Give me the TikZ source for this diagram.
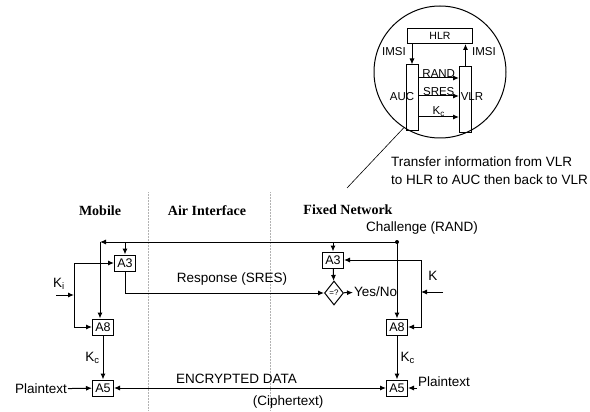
\documentclass[tikz,border=0pt]{standalone}
\usepackage{fontspec}
\setmainfont{Liberation Sans}
\newfontfamily\hdrfont{Liberation Serif}
\usetikzlibrary{arrows.meta,positioning,shapes.geometric}

\begin{document}
\begin{tikzpicture}[x=1pt, y=-1pt,
        box/.style={draw, line width=1pt, minimum width=21pt, minimum height=16pt, inner sep=1pt, font=\fontsize{12.5}{13}\selectfont},
        tall/.style={draw, line width=1pt, minimum width=12pt, minimum height=66pt, inner sep=0pt},
        lbl/.style={inner sep=1pt, font=\fontsize{13.5}{18}\selectfont},
        small/.style={inner sep=1pt, font=\fontsize{11.5}{13}\selectfont},
        hdr/.style={font=\hdrfont\bfseries\fontsize{14}{16}\selectfont},
        line/.style={draw, line width=1pt},
        arr/.style={line, -{Latex[length=6pt,width=5pt]}},
        divider/.style={draw, densely dotted, gray!60, line width=0.5pt}
    ]
        \useasboundingbox (0,0) rectangle (590,412);

        % Headers
        \node[hdr] (MOB) at (100,211) {Mobile};
        \node[hdr] (AIR) at (207,211) {Air Interface};
        \node[hdr] (FIX) at (348,210) {Fixed Network};

        % Dividers
        \draw[divider] (148,192) -- (148,410);
        \draw[divider] (270,192) -- (270,410);

        % Mobile side
        \node[box] (MA3) at (125,263) {A3};
        \node[box] (MA8) at (103,327) {A8};
        \node[box] (MA5) at (103,388) {A5};

        % Fixed side
        \node[box] (FA3) at (333,260) {A3};
        \node[diamond, draw, line width=1pt, minimum width=19pt, minimum height=24pt, inner sep=0pt, font=\fontsize{8}{8}\selectfont] (CMP) at (334,293) {=?};
        \node[box] (FA8) at (397,327) {A8};
        \node[box] (FA5) at (397,388) {A5};

        % Challenge (RAND)
        \coordinate (DOT) at (397,242);
        \coordinate (MCRN) at (100,242);
        \fill (DOT) circle (2pt);
        \node[lbl] (RAND) at (422,228) {Challenge (RAND)};
        \draw[arr] (DOT) -- (MCRN);
        \draw[arr] (MCRN) -- (MCRN |- MA8.north);
        \draw[arr] (MA3.north |- DOT) -- (MA3.north);
        \draw[arr] (FA3.north |- DOT) -- (FA3.north);
        \draw[arr] (DOT) -- (FA8.north);

        % Key Ki
        \node[lbl] (KI) at (59,284) {K\textsubscript{i}};
        \coordinate (KIS) at (56,295);
        \coordinate (KIJ) at (74,295);
        \draw[arr] (KIS) -- (KIJ);
        \draw[arr] (KIJ) |- (MA3.west);
        \draw[arr] (KIJ) |- (MA8.west);

        % Response (SRES)
        \draw[arr] (MA3.south) |- (CMP.west);
        \node[lbl] (SRES) at (232,279) {Response (SRES)};
        \draw[arr] (FA3) -- (CMP);
        \node[lbl, anchor=west] (YES) at (353,292) {Yes/No};
        \draw[arr] (CMP) -- (YES);

        % Key K
        \node[lbl] (KF) at (433,276) {K};
        \coordinate (KFS) at (443,292);
        \coordinate (KFJ) at (421,292);
        \draw[arr] (KFS) -- (KFJ);
        \draw[arr] (KFJ) |- (FA3.east);
        \draw[arr] (KFJ) |- (FA8.east);

        % Kc and A5
        \draw[arr] (MA8) -- node[lbl, left=2pt] {K\textsubscript{c}} (MA5);
        \draw[arr] (FA8) -- node[lbl, right=2pt] {K\textsubscript{c}} (FA5);
        \node[lbl, anchor=east] (MPT) at (68,389) {Plaintext};
        \draw[arr] (MPT) -- (MA5);
        \node[lbl, anchor=west] (FPT) at (417,382) {Plaintext};
        \draw[arr] (FA5.east -| FPT.west) -- (FA5.east);
        \draw[line, {Latex[length=6pt,width=5pt]}-{Latex[length=6pt,width=5pt]}] (MA5) --
            node[lbl, pos=0.45, above=3pt] {ENCRYPTED DATA}
            node[lbl, pos=0.64, below=6pt] {(Ciphertext)} (FA5);

        % Inset: VLR, HLR, AUC
        \node[draw, circle, line width=1pt, minimum size=132pt] (ZOOM) at (440,72) {};
        \node[draw, line width=1pt, minimum width=65pt, minimum height=15pt, inner sep=0pt, font=\fontsize{10.5}{11}\selectfont] (HLR) at (440,36) {HLR};
        \node[tall] (AUC) at (412,98) {};
        \node[tall] (VLR) at (465.5,99.5) {};
        \node[small] at (402,97) {AUC};
        \node[small] at (472,97) {VLR};
        \draw[arr] (HLR.south -| AUC.north) -- (AUC.north);
        \draw[arr] (VLR.north) -- (VLR.north |- HLR.south);
        \node[small] at (394,52) {IMSI};
        \node[small] at (484,52) {IMSI};
        \foreach \yy/\txt in {78/RAND, 96/SRES, 117/K\textsubscript{c}}
            \draw[arr] (AUC.east |- 0,\yy) -- node[small, above=-1pt] {\txt} (VLR.west |- 0,\yy);

        % Pointer to note
        \coordinate (PTR) at (347,188);
        \draw[line width=0.6pt] (ZOOM.237) -- (PTR);
        \node[lbl, anchor=north west, inner sep=0pt, align=left] (NOTE) at (391,157) {Transfer information from VLR\\to HLR to AUC then back to VLR};

    \end{tikzpicture}
\end{document}
